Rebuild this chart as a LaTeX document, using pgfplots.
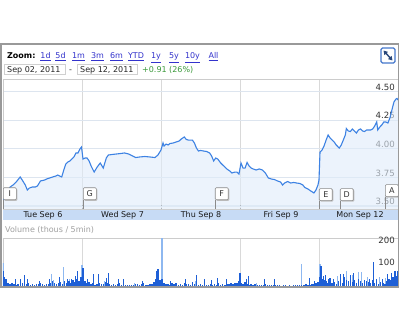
\documentclass[border=0pt]{standalone}
\usepackage{fontspec}
\setmainfont{DejaVu Sans}
\usepackage{pgfplots}
\pgfplotsset{compat=1.18}
\usepackage{pgfplotstable}
\usetikzlibrary{arrows.meta,shadows}

\definecolor{linec}{HTML}{3D82E3}
\definecolor{fillc}{HTML}{E0ECFA}
\definecolor{hgridc}{HTML}{DDE5EF}
\definecolor{vgridc}{HTML}{D9D9D9}
\definecolor{bandc}{HTML}{C7DBF5}
\definecolor{framec}{HTML}{999999}
\definecolor{axisc}{HTML}{CCCCCC}
\definecolor{tickc}{HTML}{333333}
\definecolor{linkc}{HTML}{3333CC}
\definecolor{greenc}{HTML}{3C9A3C}
\definecolor{boxc}{HTML}{D0D0D0}
\definecolor{volgray}{HTML}{A0A0A0}
\definecolor{voldark}{HTML}{1E5FD6}
\definecolor{vollight}{HTML}{8EB8F0}
\definecolor{flagb}{HTML}{8A8A8A}
\definecolor{iconc}{HTML}{4477CC}

\newcommand{\sz}{\fontsize{8}{9.6}\selectfont}

\pgfplotstableread{
i v
0 3.544
2 3.579
5 3.622
7 3.666
10 3.684
13 3.710
17 3.754
19 3.727
22 3.684
24 3.640
26 3.657
29 3.666
32 3.666
34 3.675
37 3.719
41 3.727
43 3.736
46 3.745
49 3.754
52 3.762
54 3.771
56 3.762
58 3.754
60 3.815
62 3.867
64 3.885
66 3.894
68 3.911
70 3.929
72 3.964
74 3.964
76 3.999
77.5 4.016
79 3.911
81 3.920
83 3.920
85 3.894
87 3.850
90 3.797
93 3.841
96 3.876
99 3.832
102 3.920
104 3.946
108 3.951
112 3.955
116 3.959
120 3.964
124 3.955
128 3.937
131 3.924
135 3.929
140 3.933
145 3.929
150 3.924
153 3.946
156 3.990
158 4.051
159 4.025
161 4.042
163 4.034
165 4.047
168 4.051
171 4.060
174 4.069
176 4.086
179 4.104
181 4.082
183 4.077
185 4.077
187 4.077
189 4.051
191 4.007
193 3.981
195 3.986
198 3.981
201 3.977
204 3.964
206 3.937
208 3.894
210 3.920
212 3.911
215 3.876
218 3.850
221 3.824
224 3.806
226 3.789
229 3.797
231 3.797
233 3.780
235 3.876
237 3.832
239 3.832
241 3.881
243 3.850
245 3.832
247 3.824
250 3.815
253 3.824
256 3.815
259 3.789
262 3.745
265 3.736
268 3.732
271 3.719
274 3.710
276 3.684
278 3.701
281 3.714
284 3.701
287 3.706
290 3.701
293 3.697
296 3.684
298 3.662
301 3.649
304 3.631
307 3.614
309 3.640
311 3.684
312 3.727
313 3.972
315 3.990
317 4.025
319 4.077
321 4.121
323 4.095
325 4.077
327 4.060
329 4.034
331 4.016
332 4.007
334 4.034
336 4.077
338 4.121
339 4.178
341 4.156
343 4.152
345 4.174
347 4.156
349 4.139
351 4.165
353 4.174
355 4.156
357 4.152
359 4.165
361 4.165
363 4.165
365 4.174
367 4.200
369 4.235
370 4.165
372 4.191
374 4.209
376 4.235
378 4.235
380 4.226
382 4.270
384 4.340
386 4.410
388 4.436
389 4.441
390 4.427
}\pricedata

\pgfplotstableread{
i v
1 40
3 22
5 12
7 8
9 14
11 10
13 6
15 9
17 18
19 12
21 20
23 9
25 14
27 6
29 8
31 5
33 10
35 7
37 12
39 8
41 6
43 11
45 9
47 15
49 20
51 12
53 8
55 14
57 18
59 10
61 22
63 15
65 20
67 12
69 25
71 18
73 30
75 22
77 40
79 35
81 20
83 12
85 18
87 8
89 12
91 6
93 9
95 14
97 7
99 10
101 18
103 12
105 8
107 6
109 10
111 5
113 7
115 12
117 6
119 8
121 4
123 6
125 3
127 5
129 4
131 7
133 10
135 5
137 8
139 12
141 6
143 4
145 8
147 10
149 18
151 30
153 40
155 25
157 30
159 14
161 8
163 10
165 6
167 12
169 8
171 15
173 6
175 9
177 5
179 12
181 7
183 10
185 6
187 18
189 8
191 12
193 5
195 7
197 4
199 9
201 6
203 5
205 8
207 4
209 10
211 6
213 12
215 5
217 8
219 6
221 10
223 7
225 12
227 8
229 15
231 12
233 20
235 14
237 10
239 18
241 8
243 6
245 10
247 5
249 7
251 4
253 6
255 3
257 5
259 8
261 4
263 3
265 6
267 4
269 3
271 5
273 3
275 2
277 4
279 3
281 2
283 3
285 2
287 4
289 3
291 5
293 3
295 6
297 4
299 8
301 5
303 6
305 10
307 8
309 12
311 18
313 40
315 30
317 25
319 20
321 15
323 35
325 12
327 18
329 10
331 22
333 30
335 15
337 40
339 28
341 20
343 35
345 18
347 25
349 12
351 30
353 20
355 15
357 10
359 22
361 18
363 12
365 25
367 15
369 20
371 10
373 18
375 12
377 8
379 20
381 30
383 25
385 40
387 35
389 45
}\volbase

\pgfplotstableread{
i v
0 104
48 52
50 25
60 86
66 30
78 93
100 20
130 15
157 212
190 20
250 12
295 96
313 99
330 45
339 67
345 50
351 62
354 62
360 40
372 40
378 35
}\vollightdata

\pgfplotstableread{
i v
0.5 67
3 30
12 30
17 33
21 47
24 30
36 22
46 30
56 41
64 30
68 33
72 44
74 67
79 81
83 30
89 55
94 55
102 37
104 56
114 33
119 33
138 22
152 67
153 74
165 22
180 30
191 47
199 30
206 27
212 37
221 30
234 56
240 30
242 44
258 30
268 30
303 37
308 22
314 89
316 44
318 47
321 30
326 30
333 55
336 52
343 47
346 59
357 27
362 30
366 108
369 33
375 30
380 52
384 59
387 67
390 67
}\voldarkdata

\newcommand{\flag}[3]{%
  \draw[flagb, line width=0.6pt] (axis cs:#1,3.4738) -- (axis cs:#1,#3);
  \node[anchor=south west, draw=flagb, fill=white, line width=0.6pt,
        minimum width=13pt, minimum height=12pt, inner sep=0pt,
        rounded corners=1pt, text=tickc, font=\sz,
        general shadow={fill=black!25, shadow xshift=1pt, shadow yshift=-1pt}]
        at (axis cs:#1,#3) {#2};
}

\begin{document}
\begin{tikzpicture}
\path[use as bounding box] (0,0) rectangle (400pt,333pt);
\fill[white] (0,0) rectangle (400pt,333pt);

% date band
\fill[bandc] (3pt,113pt) rectangle (398pt,124pt);

% price axis
\begin{axis}[
  at={(3pt,124pt)}, anchor=south west,
  scale only axis, width=395pt, height=130pt,
  xmin=0, xmax=390, ymin=3.4738, ymax=4.6111,
  xtick={78,156,234,312}, xticklabels={},
  ytick={3.5,3.75,4,4.25,4.5},
  yticklabel pos=right,
  /pgf/number format/fixed,
  /pgf/number format/fixed zerofill,
  /pgf/number format/precision=2,
  /pgf/number format/assume math mode=true,
  yticklabel style={anchor=south east, inner sep=1pt, xshift=-2pt,
     font=\fontsize{8.6}{10}\selectfont, text=tickc},
  ymajorgrids, xmajorgrids,
  y grid style={draw=hgridc, line width=1.2pt},
  x grid style={draw=vgridc, line width=0.8pt},
  ytick style={draw=none},
  xtick style={draw=gray!80!black, line width=0.8pt, dotted},
  major tick length=4pt, tick align=inside, xtick pos=left,
  axis line style={draw=axisc, line width=0.8pt},
]
\addplot[draw=none, fill=fillc, fill opacity=0.6] table[x=i,y=v]{\pricedata} \closedcycle;
\addplot[linec, line width=1.1pt] table[x=i,y=v]{\pricedata};
\flag{0}{I}{3.552}
\flag{79}{G}{3.552}
\flag{209.3}{F}{3.552}
\flag{312}{E}{3.544}
\flag{332.7}{D}{3.544}
\flag{377.2}{A}{3.579}
\end{axis}

% date labels
\foreach \xx/\lab in {43/Tue Sep 6, 122.5/Wed Sep 7, 201/Thu Sep 8, 281/Fri Sep 9, 360/Mon Sep 12}
  \node[anchor=base, inner sep=0pt, font=\sz, text=black!90] at (\xx pt,115.5pt) {\lab};

% volume label
\node[anchor=base west, inner sep=0pt, font=\sz, text=volgray] at (5pt,100pt) {Volume (thous / 5min)};

% volume axis
\begin{axis}[
  at={(3pt,47pt)}, anchor=south west,
  scale only axis, width=395pt, height=48pt,
  xmin=0, xmax=390, ymin=0, ymax=213,
  xtick={78,156,234,312}, xticklabels={},
  xmajorgrids,
  x grid style={draw=vgridc, line width=0.8pt},
  ytick={100,200},
  yticklabel pos=right,
  /pgf/number format/assume math mode=true,
  yticklabel style={anchor=east, inner sep=1pt, xshift=-2pt, yshift=1pt,
     font=\fontsize{8.6}{10}\selectfont, text=tickc},
  ytick style={draw=none}, xtick style={draw=none},
  axis line style={draw=axisc, line width=0.8pt},
]
\addplot[ycomb, vollight, line width=1.2pt] table[x=i,y=v]{\vollightdata};
\addplot[ycomb, voldark, line width=1.4pt] table[x=i,y=v]{\volbase};
\addplot[ycomb, voldark, line width=1.1pt] table[x=i,y=v]{\voldarkdata};
\end{axis}

% header
\node[anchor=base west, inner sep=0pt, font=\bfseries\sz] at (7pt,274pt) {Zoom:};
\foreach \xx/\lab in {45.5/1d, 60.5/5d, 78.5/1m, 97.5/3m, 116.5/6m, 136/YTD, 156/1y, 174/5y, 192.5/10y, 213.5/All}
  \node[anchor=base, inner sep=0pt, font=\sz, text=linkc] at (\xx pt,274pt) {\underline{\lab}};

\draw[boxc, fill=white, line width=0.6pt] (4pt,258.5pt) rectangle (65pt,269pt);
\draw[boxc, fill=white, line width=0.6pt] (77pt,258.5pt) rectangle (137pt,269pt);
\node[anchor=base west, inner sep=0pt, font=\sz, text=black!85] at (7pt,261pt) {Sep 02, 2011};
\node[anchor=base, inner sep=0pt, font=\sz, text=black!85] at (70.5pt,261pt) {-};
\node[anchor=base west, inner sep=0pt, font=\sz, text=black!85] at (80pt,261pt) {Sep 12, 2011};
\node[anchor=base west, inner sep=0pt, font=\sz, text=greenc] at (142pt,261pt) {+0.91 (26\%)};

% expand icon
\draw[iconc, fill=white, line width=1.1pt, rounded corners=1.5pt] (381pt,270pt) rectangle (395pt,285pt);
\draw[{Triangle[length=4pt,width=4.5pt]}-{Triangle[length=4pt,width=4.5pt]}, color=iconc!60!black, line width=1.4pt] (383.5pt,282.5pt) -- (392.5pt,272.5pt);

% plot top line and frame
\draw[axisc, line width=0.8pt] (3pt,254pt) -- (398pt,254pt);
\draw[framec, line width=1.5pt] (1pt,46pt) rectangle (398.5pt,289pt);
\end{tikzpicture}
\end{document}
